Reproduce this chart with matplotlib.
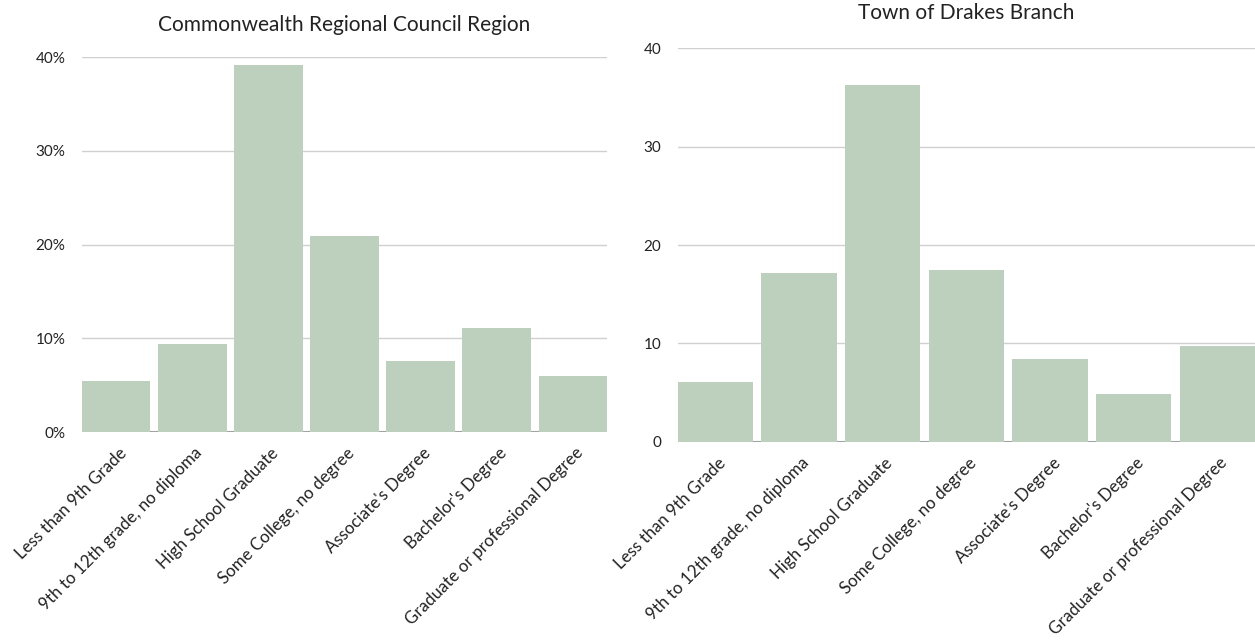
import numpy as np
import matplotlib
matplotlib.use("Agg")
import matplotlib.pyplot as plt
from matplotlib.ticker import FuncFormatter
from matplotlib.transforms import ScaledTranslation

# Data
categories = ["Less than 9th Grade", "9th to 12th grade, no diploma", "High School Graduate",
              "Some College, no degree", "Associate's Degree", "Bachelor's Degree",
              "Graduate or professional Degree"]
region_pct = [5.4, 9.4, 39.2, 20.9, 7.6, 11.1, 6.0]
town_pct = [6.1, 17.2, 36.2, 17.5, 8.4, 4.9, 9.7]
region_title = "Commonwealth Regional Council Region"
town_title = "Town of Drakes Branch"

# Style
plt.rcParams['font.family'] = ['Lato', 'DejaVu Sans']
bar_color = '#bdd0bd'
grid_color = '#d0d0d0'
text_color = '#222222'

fig = plt.figure(figsize=(12.55, 6.41), dpi=100)
ax1 = fig.add_axes([0.0653, 0.326, 0.4184, 0.585])
ax2 = fig.add_axes([0.540, 0.3105, 0.460, 0.6145])

x = np.arange(len(categories))


def style_axes(ax, values, title, pct, title_pad):
    ax.bar(x, values, width=0.9, color=bar_color, zorder=2)
    ax.set_xlim(-0.45, len(categories) - 0.55)
    ax.set_ylim(0, 40)
    ax.set_yticks([0, 10, 20, 30, 40])
    if pct:
        ax.yaxis.set_major_formatter(FuncFormatter(lambda v, p: f"{int(v)}%"))
    ax.grid(axis='y', color=grid_color, linewidth=1, zorder=0)
    ax.axhline(0, color='#999999', linewidth=1.5, zorder=1)
    for s in ax.spines.values():
        s.set_visible(False)
    ax.tick_params(axis='both', length=0, colors=text_color)
    ax.tick_params(axis='y', pad=12, labelsize=11)
    ax.tick_params(axis='x', labelsize=12.2)
    ax.set_xticks(x)
    ax.set_xticklabels(categories, rotation=45, ha='right', rotation_mode='anchor')
    shift = ScaledTranslation(0.02, -0.08, fig.dpi_scale_trans)
    for lbl in ax.get_xticklabels():
        lbl.set_transform(lbl.get_transform() + shift)
    ax.set_title(title, fontsize=15, color=text_color, pad=title_pad)


style_axes(ax1, region_pct, region_title, True, 19)
style_axes(ax2, town_pct, town_title, False, 21)

fig.savefig('out.png', dpi=100)
